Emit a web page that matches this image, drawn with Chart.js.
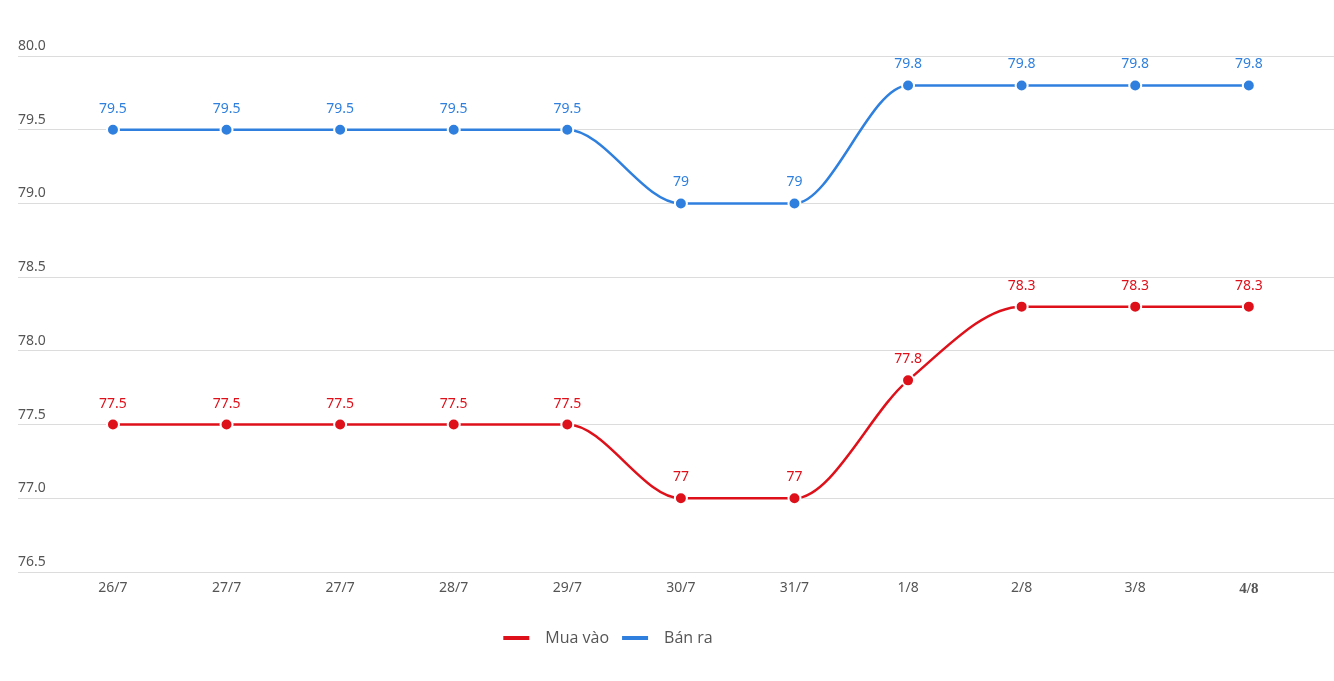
<!DOCTYPE html>
<html><head><meta charset="utf-8">
<script src="https://cdn.jsdelivr.net/npm/chart.js@4/dist/chart.umd.min.js"></script>
<style>html,body{margin:0;padding:0;background:#fff}#wrap{width:1334px;height:681px}</style>
</head><body><div id="wrap"><canvas id="c" width="1334" height="681"></canvas></div>
<script>
const categories = ["26/7","27/7","27/7","28/7","29/7","30/7","31/7","1/8","2/8","3/8","4/8"];
const muaVao = [77.5,77.5,77.5,77.5,77.5,77,77,77.8,78.3,78.3,78.3];
const banRa  = [79.5,79.5,79.5,79.5,79.5,79,79,79.8,79.8,79.8,79.8];
const yTicks = [76.5,77.0,77.5,78.0,78.5,79.0,79.5,80.0];

const RED = '#de111b', BLUE = '#2f80de';
const toPts = arr => arr.map((v,i)=>({x:i,y:v}));
const zeroPad = s => { s.paddingLeft = 0; s.paddingRight = 0; };

const labelPlugin = {
  id:'vlabels',
  afterLayout(chart){
    const L = chart.legend;
    if (L) { L.left -= 68; L.right -= 68; }
  },
  afterDatasetsDraw(chart){
    const ctx = chart.ctx;
    chart.data.datasets.forEach((ds,di)=>{
      const meta = chart.getDatasetMeta(di);
      ctx.save();
      ctx.font = '14px "Noto Sans", "Open Sans", sans-serif';
      ctx.fillStyle = ds.borderColor;
      ctx.textAlign = 'center';
      ctx.textBaseline = 'bottom';
      meta.data.forEach((p,i)=>{
        ctx.fillText(String(ds.data[i].y), p.x, p.y - 14);
      });
      ctx.restore();
    });
  }
};

new Chart(document.getElementById('c'), {
  type:'line',
  data:{
    datasets:[
      {label:'Mua vào', data:toPts(muaVao), borderColor:RED, backgroundColor:RED, pointBackgroundColor:RED, pointBorderColor:'#fff', pointBorderWidth:2, pointRadius:6, borderWidth:2.5, cubicInterpolationMode:'monotone'},
      {label:'Bán ra', data:toPts(banRa), borderColor:BLUE, backgroundColor:BLUE, pointBackgroundColor:BLUE, pointBorderColor:'#fff', pointBorderWidth:2, pointRadius:6, borderWidth:2.5, cubicInterpolationMode:'monotone'}
    ]
  },
  options:{
    responsive:false, animation:false,
    layout:{autoPadding:false, padding:{top:56,left:18,right:0,bottom:25}},
    plugins:{
      legend:{position:'bottom', labels:{boxWidth:26, boxHeight:4, padding:13, color:'#555',
        font:{family:'"Open Sans", "Noto Sans", sans-serif', size:16, weight:400},
        generateLabels(chart){
          return chart.data.datasets.map((ds,i)=>({text:'\u2002'+ds.label, fillStyle:ds.borderColor, strokeStyle:ds.borderColor, lineWidth:0, datasetIndex:i, hidden:false, fontColor:'#555'}));
        }}},
      tooltip:{enabled:false}
    },
    scales:{
      x:{type:'linear', min:-0.836, max:10.75,
        afterBuildTicks(s){ s.ticks = categories.map((c,i)=>({value:i})); },
        afterFit(s){ s.height = 45; zeroPad(s); },
        grid:{display:false}, border:{display:false},
        ticks:{padding:0, color:'#555', callback:(v)=>categories[v],
          font:(c)=> (c.index===10 ? {family:'"Liberation Serif", serif', size:15, weight:'bold'} : {family:'"Noto Sans", sans-serif', size:14})}
      },
      y:{min:76.5, max:80.0,
        afterBuildTicks(s){ s.ticks = yTicks.map(v=>({value:v})); },
        afterFit(s){ zeroPad(s); },
        grid:{color:'#dcdcdc', drawTicks:false}, border:{display:false},
        ticks:{mirror:true, labelOffset:-10, padding:0, color:'#555', font:{family:'"Noto Sans", sans-serif', size:14}, callback:v=>v.toFixed(1)}
      }
    }
  },
  plugins:[labelPlugin]
});
</script></body></html>
